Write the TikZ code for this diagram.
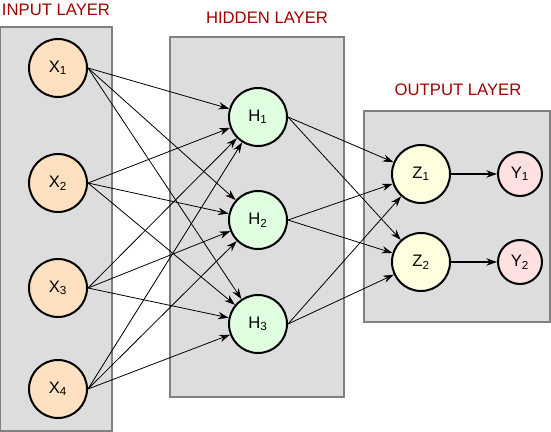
\documentclass[tikz,border=0pt]{standalone}
\usepackage{fontspec}
\setmainfont{Liberation Sans}
\usetikzlibrary{arrows.meta}
\definecolor{BoxGray}{RGB}{221,221,221}
\definecolor{EdgeGray}{RGB}{128,128,128}
\definecolor{TitleRed}{RGB}{160,0,0}
\definecolor{SoftPeach}{RGB}{255,224,192}
\definecolor{SoftGreen}{RGB}{224,255,224}
\definecolor{SoftYellow}{RGB}{255,255,224}
\definecolor{SoftPink}{RGB}{255,224,224}
\begin{document}
\begin{tikzpicture}[x=0.75pt, y=-0.75pt, every node/.style={font=\fontsize{12.5}{14}\selectfont},
  layerbox/.style={draw=EdgeGray, fill=BoxGray, line width=0.9pt, inner sep=0pt},
  title/.style={text=TitleRed},
  neuron/.style={draw, circle, line width=1.5pt, inner sep=0pt, minimum size=43.5pt},
  edge/.style={-{Stealth[length=8pt, width=5.5pt]}, line width=0.6pt}]
\useasboundingbox (0,0) rectangle (551,432);

% layer boxes and titles
\node[layerbox, minimum width=84pt, minimum height=303pt] (inbox) at (56,229) {};
\node[layerbox, minimum width=130.5pt, minimum height=270pt] (hidbox) at (257,217) {};
\node[layerbox, minimum width=139.5pt, minimum height=158.25pt] (outbox) at (457,216.5) {};
\node[title] (intitle) at (56,10) {INPUT LAYER};
\node[title] (hidtitle) at (267,18) {HIDDEN LAYER};
\node[title] (outtitle) at (458,90) {OUTPUT LAYER};

% input layer
\node[neuron, fill=SoftPeach] (x1) at (58,68) {X\textsubscript{1}};
\node[neuron, fill=SoftPeach] (x2) at (58,183) {X\textsubscript{2}};
\node[neuron, fill=SoftPeach] (x3) at (58,288) {X\textsubscript{3}};
\node[neuron, fill=SoftPeach] (x4) at (58,389) {X\textsubscript{4}};

% hidden layer
\node[neuron, fill=SoftGreen] (h1) at (258,117) {H\textsubscript{1}};
\node[neuron, fill=SoftGreen] (h2) at (258,220) {H\textsubscript{2}};
\node[neuron, fill=SoftGreen] (h3) at (258,324) {H\textsubscript{3}};

% output layer
\node[neuron, fill=SoftYellow] (z1) at (421,174) {Z\textsubscript{1}};
\node[neuron, fill=SoftYellow] (z2) at (421,262) {Z\textsubscript{2}};
\node[neuron, fill=SoftPink, minimum size=33pt] (y1) at (520,174) {Y\textsubscript{1}};
\node[neuron, fill=SoftPink, minimum size=33pt] (y2) at (520,262) {Y\textsubscript{2}};

% input -> hidden
\draw[edge] (x1.east) -- (h1);
\draw[edge] (x1.east) -- (h2);
\draw[edge] (x1.east) -- (h3);
\draw[edge] (x2.east) -- (h1);
\draw[edge] (x2.east) -- (h2);
\draw[edge] (x2.east) -- (h3);
\draw[edge] (x3.east) -- (h1);
\draw[edge] (x3.east) -- (h2);
\draw[edge] (x3.east) -- (h3);
\draw[edge] (x4.east) -- (h1);
\draw[edge] (x4.east) -- (h2);
\draw[edge] (x4.east) -- (h3);

% hidden -> output
\draw[edge] (h1.east) -- (z1);
\draw[edge] (h1.east) -- (z2);
\draw[edge] (h2.east) -- (z1);
\draw[edge] (h2.east) -- (z2);
\draw[edge] (h3.east) -- (z1);
\draw[edge] (h3.east) -- (z2);

\draw[edge, line width=0.9pt] (z1) -- (y1);
\draw[edge, line width=0.9pt] (z2) -- (y2);
\end{tikzpicture}
\end{document}
